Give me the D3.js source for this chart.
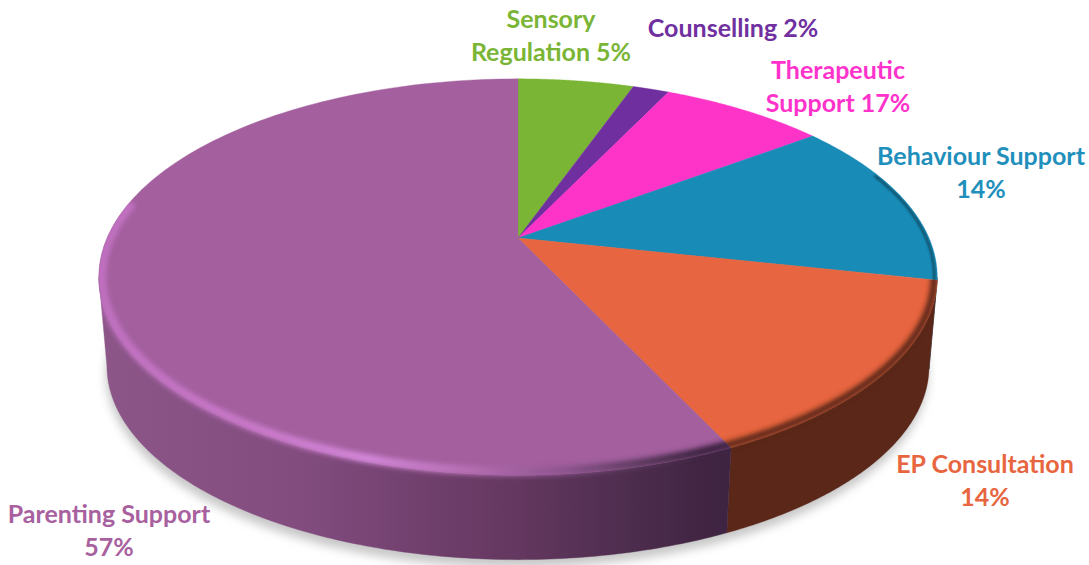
<!DOCTYPE html>
<html><head><meta charset="utf-8">
<script src="https://cdnjs.cloudflare.com/ajax/libs/d3/7.8.5/d3.min.js"></script>
<style>html,body{margin:0;padding:0;background:#fff;overflow:hidden}svg{display:block}
text{font-family:Lato,"Open Sans",sans-serif;font-weight:700;text-anchor:middle}</style>
</head><body><svg id="c" width="1089" height="565"></svg>
<script>
// Data: slice sizes are as drawn in the picture; label texts are as printed in it.
const categories = ["Sensory Regulation","Counselling","Therapeutic Support","Behaviour Support","EP Consultation","Parenting Support"];
const sliceValues = [5.4,1.7,7.7,13.6,14.6,57];
const labelLines = [["Sensory","Regulation 5%"],["Counselling 2%"],["Therapeutic","Support 17%"],["Behaviour Support","14%"],["EP Consultation","14%"],["Parenting Support","57%"]];
const colors = ["#7ab536","#6f2f9f","#fe33c8","#188bb7","#e76540","#a35f9e"];
const textColors = ["#7ab536","#7030a0","#ff33cc","#1f8fbb","#e8663f","#a8609f"];
const labelAnchors = [[551,28],[733,37],[838,79],[981,165],[985,473],[109,523]];

const svg = d3.select("#c"), defs = svg.append("defs");
const TAU = Math.PI*2;
// perspective projection of the unit disc
function projector(cx,cy,A,B,k){return t=>{const u=Math.sin(t),v=-Math.cos(t),d=1-k*v;return [cx+A*u/d,cy+B*v/d];};}
const topP = projector(518,238,411,190.5,0.197);
const baseP = projector(518,328,403,186,0.197);
const samples=(a,b,n=140)=>d3.range(n+1).map(i=>a+(b-a)*i/n);
const line=d3.line();
const arcs=d3.pie().sort(null).value(d=>d)(sliceValues);
const deg=d=>d*Math.PI/180;

function blur(id,s){defs.append("filter").attr("id",id).attr("x","-20%").attr("y","-20%").attr("width","140%").attr("height","140%")
  .attr("filterUnits","objectBoundingBox").append("feGaussianBlur").attr("stdDeviation",s);}
blur("b5",5);blur("b3",2.6);blur("b1",1);

function hgrad(id,stops){const g=defs.append("linearGradient").attr("id",id).attr("gradientUnits","userSpaceOnUse")
  .attr("x1",98).attr("x2",740).attr("y1",0).attr("y2",0);
  stops.forEach(s=>g.append("stop").attr("offset",(s[0]-98)/642).attr("stop-color",s[1]));}
hgrad("wallPurple",[[98,"#8c5689"],[300,"#824c7f"],[400,"#744270"],[520,"#63375f"],[620,"#4f2e50"],[700,"#412543"],[740,"#3e2442"]]);
hgrad("bevelPurple",[[98,"#c070c0"],[250,"#c878c8"],[370,"#d286d8"],[470,"#b56eb2"],[560,"#8f5590"],[640,"#5c3a5e"],[700,"#3e2442"],[740,"#3e2442"]]);

// drop shadow
svg.append("path").attr("d",line(samples(0,TAU,200).map(baseP).map(p=>[p[0]-1,p[1]+8]))+"Z")
  .attr("fill","#c8c8c8").attr("filter","url(#b5)");

// walls: each visible slice gets a band between rim and base; the band ends at the silhouette tangents
const wallFill=["#333","#333","#333","#0e4f66","#5a2719","url(#wallPurple)"];
const visible=a=>[Math.max(a.startAngle,deg(101.4)),Math.min(a.endAngle,deg(258.6))];
arcs.forEach((a,i)=>{const [s,e]=visible(a);if(e<=s)return;
  const pts=samples(s,e);
  svg.append("path").attr("d",line(pts.map(topP).concat(pts.slice().reverse().map(baseP)))+"Z")
    .attr("fill",wallFill[i]).attr("stroke",wallFill[i]).attr("stroke-width",0.4);
});

// top face
const slicePts=a=>[[518,238]].concat(samples(a.startAngle,a.endAngle).map(topP));
arcs.forEach((a,i)=>{
  svg.append("path").attr("d",line(slicePts(a))+"Z").attr("fill",colors[i]).attr("stroke",colors[i]).attr("stroke-width",0.4);
});

// bevels, clipped slice by slice
const bevel=[null,null,null,{c:"#0c4257",w:2,f:"b1",r:[72,105],top:true},{c:"#5a2719",w:7,f:"b3"},{c:"url(#bevelPurple)",w:9,f:"b3",r:[154,280]}];
arcs.forEach((a,i)=>{const b=bevel[i];if(!b)return;
  const [s,e]=b.r?[deg(b.r[0]),deg(b.r[1])]:[a.startAngle,a.endAngle];
  const [vs,ve]=visible(a);
  const id="clip"+i;
  const cp=defs.append("clipPath").attr("id",id);
  cp.append("path").attr("d",line(slicePts(a))+"Z");
  if(!b.top&&ve>vs){const pts=samples(vs,ve);cp.append("path").attr("d",line(pts.map(topP).concat(pts.slice().reverse().map(baseP)))+"Z");}
  svg.append("g").attr("clip-path",`url(#${id})`).append("path")
    .attr("d",line(samples(s-0.05,e+0.02).map(t=>{const p=topP(t);return [518+(p[0]-518)*0.993,238+(p[1]-238)*0.985];})))
    .attr("fill","none").attr("stroke",b.c).attr("stroke-width",b.w).attr("filter",`url(#${b.f})`);
});

// labels
categories.forEach((c,i)=>{
  const t=svg.append("text").attr("fill",textColors[i]).attr("font-size",25).attr("aria-label",c);
  labelLines[i].forEach((l,j)=>t.append("tspan").attr("x",labelAnchors[i][0]).attr("y",labelAnchors[i][1]+j*32.5).text(l));
});
</script></body></html>
